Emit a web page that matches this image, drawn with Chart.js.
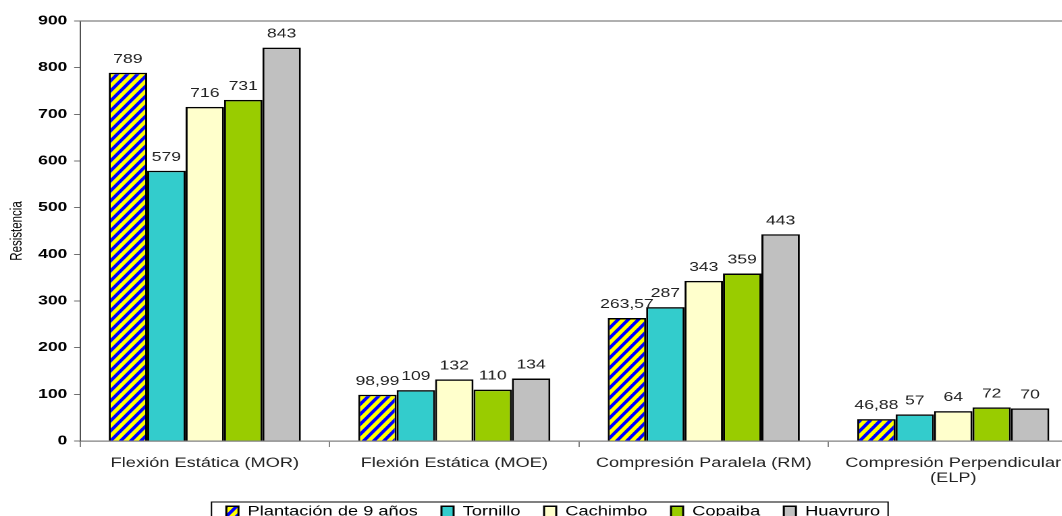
<!DOCTYPE html>
<html>
<head>
<meta charset="utf-8">
<script src="https://cdn.jsdelivr.net/npm/chart.js@4.4.0/dist/chart.umd.min.js"></script>
<style>
  html, body { margin: 0; padding: 0; background: #fff; overflow: hidden; }
  /* the chart is laid out narrow and widened horizontally */
  #wrap { position: absolute; left: 0; top: 0; width: 800px; height: 530px; transform: scaleX(1.35); transform-origin: 0 0; }
</style>
</head>
<body>
<div id="wrap"><canvas id="chart"></canvas></div>
<script>
const categories = [
  "Flexión Estática (MOR)",
  "Flexión Estática (MOE)",
  "Compresión Paralela (RM)",
  ["Compresión Perpendicular", "(ELP)"]
];
const plantacion = [789, 98.99, 263.57, 46.88];
const tornillo = [579, 109, 287, 57];
const cachimbo = [716, 132, 343, 64];
const copaiba = [731, 110, 359, 72];
const huayruro = [843, 134, 443, 70];
const yMin = 0, yMax = 900, yStep = 100;

Chart.defaults.font.family = "'Liberation Sans', Arial, sans-serif";

// yellow / blue diagonal hatch for the plantation series
function stripes() {
  const c = document.createElement("canvas");
  c.width = 15; c.height = 20;
  const g = c.getContext("2d");
  g.fillStyle = "#ffff00";
  g.fillRect(0, 0, 15, 20);
  g.strokeStyle = "#0000ff";
  g.lineWidth = 5.5;
  for (const x0 of [-15, 0, 15]) {
    g.beginPath();
    g.moveTo(x0 - 15, 40);
    g.lineTo(x0 + 30, -20);
    g.stroke();
  }
  const p = g.createPattern(c, "repeat");
  p.setTransform(new DOMMatrix().scale(0.5));
  return p;
}

// value above each bar, decimal comma
const barValues = {
  id: "barValues",
  afterDatasetsDraw(chart) {
    const ctx = chart.ctx;
    ctx.save();
    ctx.font = "13px 'Liberation Sans', Arial, sans-serif";
    ctx.fillStyle = "#222";
    ctx.textAlign = "center";
    ctx.textBaseline = "alphabetic";
    chart.data.datasets.forEach((ds, i) => {
      chart.getDatasetMeta(i).data.forEach((bar, j) => {
        ctx.fillText(String(ds.data[j]).replace(".", ","), bar.x, bar.y - 10);
      });
    });
    ctx.restore();
  }
};

// top edge of the plot area and the frame round the legend
const frame = {
  id: "frame",
  afterDraw(chart) {
    const { ctx, chartArea, legend } = chart;
    ctx.save();
    ctx.strokeStyle = "#808080";
    ctx.lineWidth = 1.3;
    ctx.beginPath();
    ctx.moveTo(chartArea.left, chartArea.top);
    ctx.lineTo(chart.width, chartArea.top);
    ctx.stroke();
    const boxes = legend.legendHitBoxes;
    const first = boxes[0], last = boxes[boxes.length - 1];
    const l = first.left - 11, r = last.left + last.width + 6;
    ctx.strokeStyle = "#000";
    ctx.lineWidth = 1;
    ctx.strokeRect(l, first.top - 3, r - l, 40);
    ctx.restore();
  }
};

new Chart(document.getElementById("chart"), {
  type: "bar",
  data: {
    labels: categories,
    datasets: [
      { label: "Plantación de 9 años", data: plantacion, backgroundColor: stripes() },
      { label: "Tornillo", data: tornillo, backgroundColor: "#33cccc" },
      { label: "Cachimbo", data: cachimbo, backgroundColor: "#ffffcc" },
      { label: "Copaiba", data: copaiba, backgroundColor: "#99cc00" },
      { label: "Huayruro", data: huayruro, backgroundColor: "#c0c0c0" }
    ]
  },
  options: {
    responsive: true,
    maintainAspectRatio: false,
    animation: false,
    devicePixelRatio: 2,
    layout: { padding: { left: 21, right: 1.5, top: 21, bottom: 1.5 } },
    datasets: {
      bar: { borderColor: "#000", borderWidth: 1.5, categoryPercentage: 0.77, barPercentage: 1 }
    },
    plugins: {
      legend: {
        position: "bottom",
        labels: { boxWidth: 9, boxHeight: 11, padding: 17.5, color: "#000", font: { size: 13.5 } }
      },
      tooltip: { enabled: false }
    },
    scales: {
      x: {
        grid: { offset: true, drawOnChartArea: false, tickLength: 6, color: "#808080", lineWidth: 1 },
        border: { color: "#808080", width: 1.3 },
        ticks: { padding: 9, color: "#222", font: { size: 13.5, lineHeight: 1.1 }, maxRotation: 0, autoSkip: false },
        afterFit(s) { s.height = 46.5; }
      },
      y: {
        min: yMin,
        max: yMax,
        ticks: { stepSize: yStep, padding: 5, color: "#000", font: { size: 13, weight: "bold" } },
        grid: { drawOnChartArea: false, tickLength: 4.4, color: "#707070" },
        border: { color: "#505050", width: 1 },
        title: { display: true, text: "Resistencia", color: "#000", font: { size: 11.5 }, padding: { top: -15, bottom: 0 } },
        afterFit(s) { s.width = 38.3; }
      }
    }
  },
  plugins: [barValues, frame]
});
</script>
</body>
</html>
